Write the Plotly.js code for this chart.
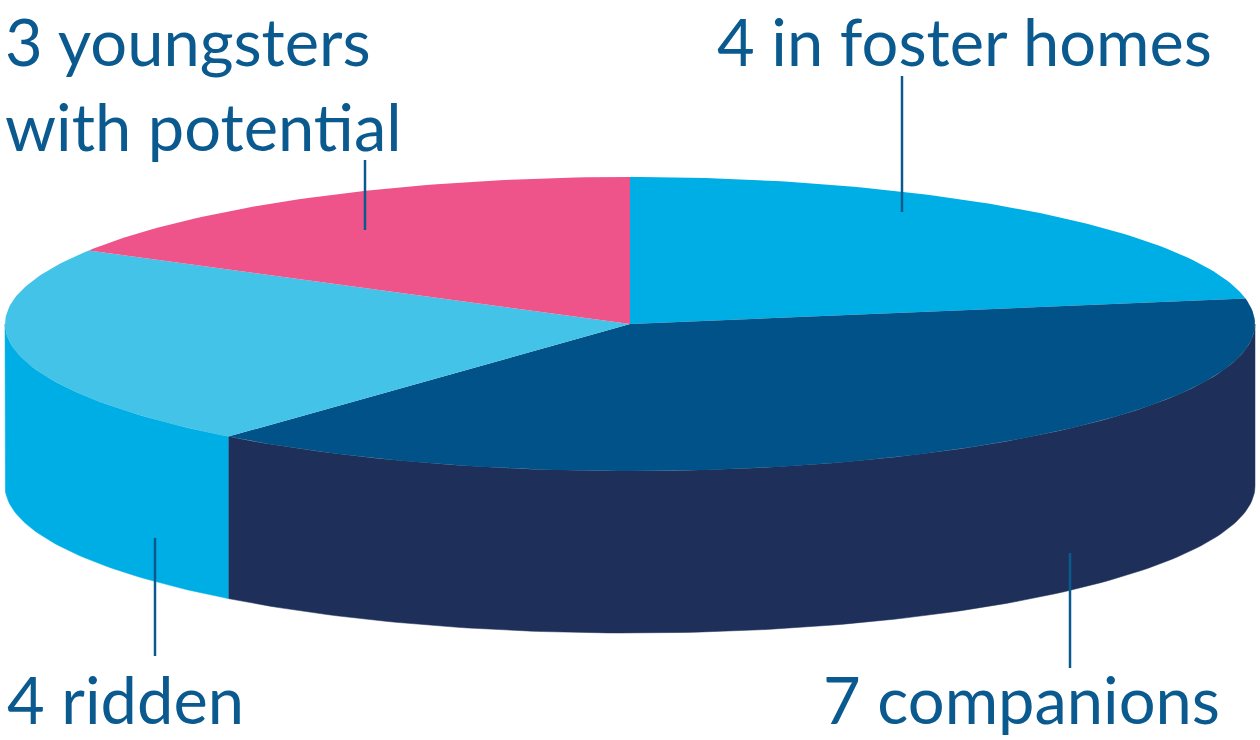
<!DOCTYPE html>
<html>
<head>
<meta charset="utf-8">
<script src="https://cdn.plot.ly/plotly-3.0.1.min.js"></script>
<style>
html,body{margin:0;padding:0;background:#ffffff;}
#chart{width:1260px;height:740px;}
</style>
</head>
<body>
<div id="chart"></div>
<script>
// ---- data ----
var categories = ["in foster homes", "companions", "ridden", "youngsters with potential"];
var values = [4, 7, 4, 3];
var labelTexts = ["4 in foster homes", "7 companions", "4 ridden", "3 youngsters<br>with potential"];
var topColors = ["#00AEE6", "#005288", "#42C3E7", "#EE5489"];
var sideColors = ["#0090C4", "#1E3059", "#00AEE6", "#C8406E"];

// ---- geometry (pixel-like units on hidden axes) ----
var cx = 630, cy = 324, rx = 625, ry = 147, depth = 162;
var textColor = "#0B5A8F";

var total = values.reduce(function(a, b){ return a + b; }, 0);
function px(t){ return cx + rx * Math.sin(t); }
function py(t){ return cy - ry * Math.cos(t); }

var sideTraces = [], topTraces = [];
var start = 0;
for (var i = 0; i < values.length; i++) {
  var a0 = start / total * 2 * Math.PI;
  var a1 = (start + values[i]) / total * 2 * Math.PI;
  start += values[i];
  // top face
  var tx = [cx], ty = [cy];
  var n = Math.max(8, Math.ceil((a1 - a0) / (Math.PI / 180)));
  for (var k = 0; k <= n; k++) {
    var t = a0 + (a1 - a0) * k / n;
    tx.push(px(t)); ty.push(py(t));
  }
  tx.push(cx); ty.push(cy);
  topTraces.push({
    type: "scatter", mode: "lines", x: tx, y: ty, fill: "toself",
    fillcolor: topColors[i], line: {width: 0, color: topColors[i]},
    hoverinfo: "skip", name: categories[i], showlegend: false
  });
  // visible side (front half: pi/2 .. 3pi/2)
  var s0 = Math.max(a0, Math.PI / 2), s1 = Math.min(a1, 3 * Math.PI / 2);
  if (s1 > s0) {
    var sx = [], sy = [];
    var m = Math.max(8, Math.ceil((s1 - s0) / (Math.PI / 180)));
    for (var k2 = 0; k2 <= m; k2++) {
      var t2 = s0 + (s1 - s0) * k2 / m;
      sx.push(px(t2)); sy.push(py(t2));
    }
    for (var k3 = m; k3 >= 0; k3--) {
      var t3 = s0 + (s1 - s0) * k3 / m;
      sx.push(px(t3)); sy.push(py(t3) + depth);
    }
    sx.push(sx[0]); sy.push(sy[0]);
    sideTraces.push({
      type: "scatter", mode: "lines", x: sx, y: sy, fill: "toself",
      fillcolor: sideColors[i], line: {width: 0.5, color: sideColors[i]},
      hoverinfo: "skip", name: categories[i] + " side", showlegend: false
    });
  }
}

// ---- label layout ----
var labelPos = [
  {x: 716, y: 1, yanchor: "top", line: [902, 76, 902, 212]},
  {x: 822, y: 739, yanchor: "bottom", line: [1070, 553, 1070, 668]},
  {x: 6, y: 739, yanchor: "bottom", line: [155, 538, 155, 656]},
  {x: 4, y: 1, yanchor: "top", line: [365, 160, 365, 230]}
];
var annotations = [], shapes = [];
for (var j = 0; j < labelTexts.length; j++) {
  var p = labelPos[j];
  annotations.push({
    x: p.x, y: p.y, xref: "x", yref: "y", xanchor: "left", yanchor: p.yanchor,
    text: labelTexts[j], showarrow: false, align: "left", borderpad: 0,
    font: {family: "Lato, 'Open Sans', sans-serif", size: 65, color: textColor}
  });
  shapes.push({
    type: "line", xref: "x", yref: "y",
    x0: p.line[0], y0: p.line[1], x1: p.line[2], y1: p.line[3],
    line: {color: textColor, width: 2.5}
  });
}

var layout = {
  width: 1260, height: 740,
  margin: {l: 0, r: 0, t: 0, b: 0, pad: 0},
  paper_bgcolor: "#ffffff", plot_bgcolor: "#ffffff",
  xaxis: {range: [0, 1260], visible: false, fixedrange: true},
  yaxis: {range: [740, 0], visible: false, fixedrange: true},
  showlegend: false,
  annotations: annotations,
  shapes: shapes
};

Plotly.newPlot("chart", sideTraces.concat(topTraces), layout, {staticPlot: true, displayModeBar: false});
</script>
</body>
</html>
